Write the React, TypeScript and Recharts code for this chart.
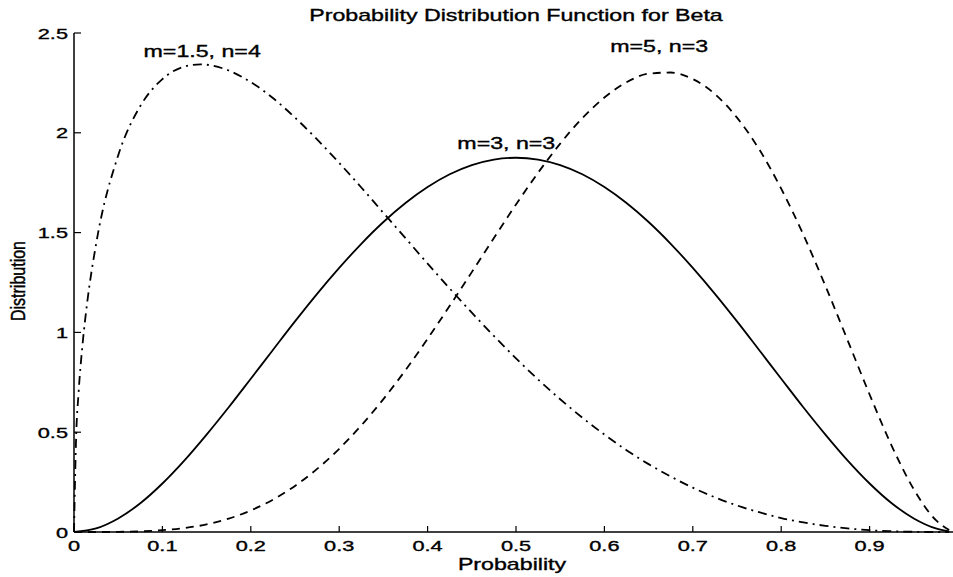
import { LineChart, Line, XAxis, YAxis, ReferenceDot } from 'recharts'

// probability grid shared by the two symmetric-ish curves
const probGrid = [
  0, 0.025, 0.05, 0.075, 0.1, 0.125, 0.15, 0.175, 0.2, 0.225, 0.25, 0.275, 0.3, 0.325, 0.35,
  0.375, 0.4, 0.425, 0.45, 0.475, 0.5, 0.525, 0.55, 0.575, 0.6, 0.625, 0.65, 0.675, 0.7, 0.725,
  0.75, 0.775, 0.8, 0.825, 0.85, 0.875, 0.9, 0.925, 0.95, 0.975, 0.99,
]
const beta33 = [
  0, 0.018, 0.068, 0.144, 0.243, 0.359, 0.488, 0.625, 0.768, 0.912, 1.055, 1.193, 1.323, 1.444,
  1.553, 1.648, 1.728, 1.792, 1.838, 1.866, 1.875, 1.866, 1.838, 1.792, 1.728, 1.648, 1.553,
  1.444, 1.323, 1.193, 1.055, 0.912, 0.768, 0.625, 0.488, 0.359, 0.243, 0.144, 0.068, 0.018,
  0.003,
]
const beta53 = [
  0, 0.0, 0.001, 0.003, 0.009, 0.02, 0.038, 0.067, 0.108, 0.162, 0.231, 0.316, 0.417, 0.534,
  0.666, 0.811, 0.968, 1.133, 1.302, 1.473, 1.641, 1.8, 1.946, 2.073, 2.177, 2.253, 2.296, 2.302,
  2.269, 2.194, 2.076, 1.918, 1.72, 1.49, 1.233, 0.962, 0.689, 0.432, 0.214, 0.059, 0.01,
]
// the m=1.5 curve climbs almost vertically, so it gets extra points near zero
const probSteep = [
  0, 0.0025, 0.005, 0.01, 0.015, 0.025, 0.05, 0.075, 0.1, 0.125, 0.143, 0.15, 0.175, 0.2, 0.225,
  0.25, 0.275, 0.3, 0.325, 0.35, 0.375, 0.4, 0.425, 0.45, 0.475, 0.5, 0.525, 0.55, 0.575, 0.6,
  0.625, 0.65, 0.675, 0.7, 0.725, 0.75, 0.775, 0.8, 0.825, 0.85, 0.875, 0.9, 0.925, 0.95, 0.975,
  0.99,
]
const beta154 = [
  0, 0.489, 0.686, 0.955, 1.152, 1.443, 1.887, 2.134, 2.269, 2.332, 2.343, 2.341, 2.312, 2.254,
  2.174, 2.076, 1.967, 1.849, 1.726, 1.599, 1.472, 1.345, 1.22, 1.099, 0.982, 0.87, 0.764, 0.665,
  0.573, 0.488, 0.41, 0.34, 0.278, 0.222, 0.174, 0.133, 0.099, 0.07, 0.048, 0.031, 0.018, 0.009,
  0.004, 0.001, 0, 0,
]

const xTicks = [0, 0.1, 0.2, 0.3, 0.4, 0.5, 0.6, 0.7, 0.8, 0.9]
const yTicks = [0, 0.5, 1, 1.5, 2, 2.5]

const curveLabels = [
  { text: 'm=1.5, n=4', x: 0.145, y: 2.38 },
  { text: 'm=3, n=3', x: 0.489, y: 1.919 },
  { text: 'm=5, n=3', x: 0.662, y: 2.405 },
]

const FONT = '"Liberation Sans", Arial, Helvetica, sans-serif'
const SX = 1.45 // the scan is stretched sideways

const zip = (xs: number[], ys: number[]) => xs.map((x, i) => ({ x, y: ys[i] }))

function WideText({ x, y, size = 15, anchor = 'middle', children }: any) {
  return (
    <text
      transform={`translate(${x},${y}) scale(${SX},1)`}
      textAnchor={anchor}
      fontSize={size}
      fontFamily={FONT}
      fill="#000"
      stroke="#000"
      strokeWidth={0.35}
    >
      {children}
    </text>
  )
}

function XTick({ x, y, payload }: any) {
  return (
    <g>
      <line x1={x} x2={x} y1={y} y2={y - 6} stroke="#000" strokeWidth={1.2} />
      <WideText x={x} y={y + 19}>{String(payload.value)}</WideText>
    </g>
  )
}

function YTick({ x, y, payload }: any) {
  return (
    <g>
      <line x1={x} x2={x + 7} y1={y} y2={y} stroke="#000" strokeWidth={1.2} />
      <WideText x={x - 6} y={y + 5.5} anchor="end">{String(payload.value)}</WideText>
    </g>
  )
}

export default function App() {
  return (
    <div style={{ position: 'absolute', left: 0, top: 0, width: 953, height: 577, overflow: 'hidden', background: '#fff' }}>
      <LineChart width={970} height={577} margin={{ top: 33, right: 12, bottom: 0, left: 0 }}>
        <XAxis
          dataKey="x"
          type="number"
          domain={[0, 1]}
          ticks={xTicks}
          height={45}
          tickSize={0}
          tickMargin={0}
          tickLine={false}
          axisLine={{ stroke: '#000', strokeWidth: 1.5 }}
          tick={<XTick />}
          allowDuplicatedCategory={false}
        />
        <YAxis
          type="number"
          domain={[0, 2.5]}
          ticks={yTicks}
          width={74}
          tickSize={0}
          tickMargin={0}
          tickLine={false}
          axisLine={{ stroke: '#000', strokeWidth: 1.5 }}
          tick={<YTick />}
        />
        <Line
          data={zip(probSteep, beta154)}
          dataKey="y"
          type="monotone"
          stroke="#000"
          strokeWidth={1.8}
          strokeDasharray="9 5 2 5"
          dot={false}
          isAnimationActive={false}
        />
        <Line
          data={zip(probGrid, beta33)}
          dataKey="y"
          type="monotone"
          stroke="#000"
          strokeWidth={1.8}
          dot={false}
          isAnimationActive={false}
        />
        <Line
          data={zip(probGrid, beta53)}
          dataKey="y"
          type="monotone"
          stroke="#000"
          strokeWidth={1.8}
          strokeDasharray="8 6"
          dot={false}
          isAnimationActive={false}
        />
        {curveLabels.map((l) => (
          <ReferenceDot
            key={l.text}
            x={l.x}
            y={l.y}
            r={0}
            ifOverflow="visible"
            shape={(p: any) => <WideText x={p.cx} y={p.cy} size={16}>{l.text}</WideText>}
          />
        ))}
        <WideText x={516} y={21} size={16}>Probability Distribution Function for Beta</WideText>
        <WideText x={512} y={570} size={16}>Probability</WideText>
        <text
          transform="translate(25,281) scale(1.25,1) rotate(-90)"
          textAnchor="middle"
          fontSize={16}
          fontFamily={FONT}
          fill="#000"
          stroke="#000"
          strokeWidth={0.35}
        >
          Distribution
        </text>
      </LineChart>
    </div>
  )
}
